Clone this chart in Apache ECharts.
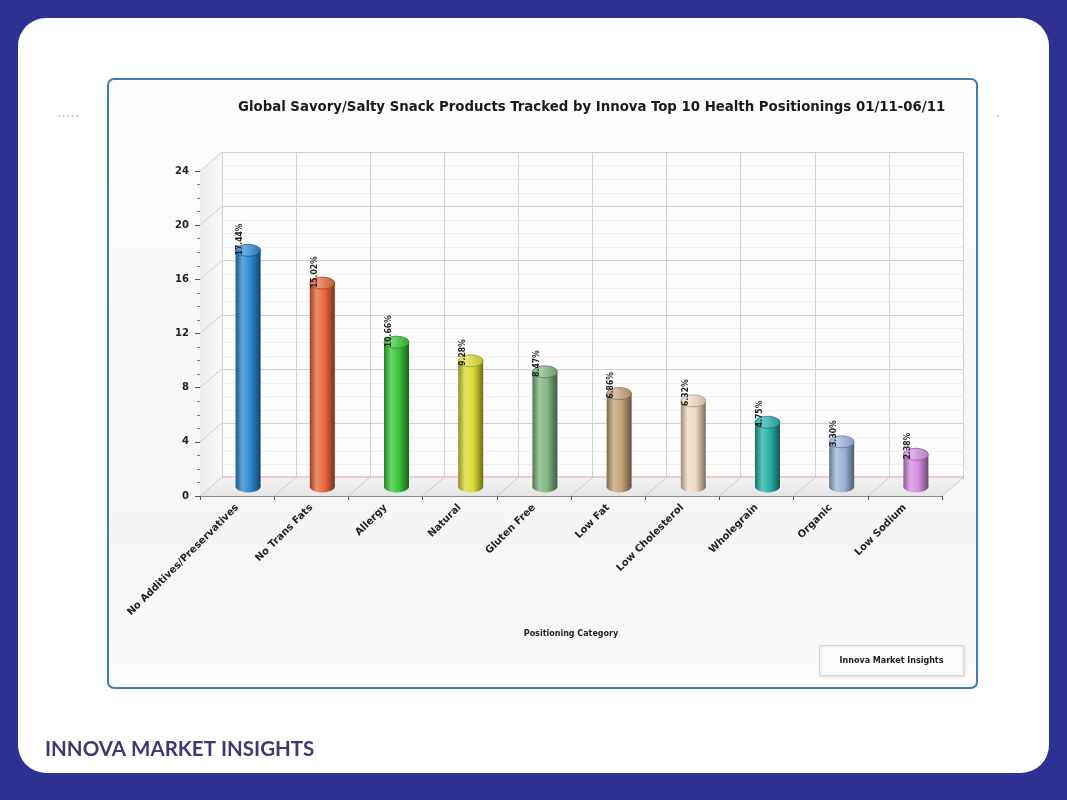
<!DOCTYPE html>
<html><head><meta charset="utf-8">
<script src="https://cdn.jsdelivr.net/npm/echarts@6/dist/echarts.min.js"></script>
<style>
html,body{margin:0;padding:0;background:#2e3192;overflow:hidden;}
#card{position:absolute;left:18px;top:18px;width:1031px;height:755px;background:#fff;border-radius:28px;}
#panel{position:absolute;left:107px;top:78px;width:867px;height:607px;border:2px solid #3f7cb9;border-radius:7px;background:linear-gradient(#fdfdfd,#f5f5f5 75%,#fbfbfb);}
#chart{position:absolute;left:0;top:0;width:1067px;height:800px;}
</style></head><body>
<div id="card"></div><div id="panel"></div><div id="chart"></div>
<script>
const titleText = 'Global Savory/Salty Snack Products Tracked by Innova Top 10 Health Positionings 01/11-06/11';
const categories = ['No Additives/Preservatives','No Trans Fats','Allergy','Natural','Gluten Free','Low Fat','Low Cholesterol','Wholegrain','Organic','Low Sodium'];
const values = [17.44, 15.02, 10.66, 9.28, 8.47, 6.86, 6.32, 4.75, 3.30, 2.38];
const valueLabels = ['17.44%','15.02%','10.66%','9.28%','8.47%','6.86%','6.32%','4.75%','3.30%','2.38%'];
const barColors = ['#2b88d2','#e9653b','#38c63a','#dcdc36','#82b482','#c4a479','#efd9c3','#27b1a6','#9bb5d8','#d68ee2'];
const yTicks = [0,4,8,12,16,20,24];
const xAxisName = 'Positioning Category';
const sourceText = 'Innova Market Insights';
const brandText = 'INNOVA MARKET INSIGHTS';

const DX = 22, DY = -19;
const Y_MAX = 24;

function shade(hex, amt){
  const n = parseInt(hex.slice(1),16);
  let r = n>>16, g = (n>>8)&255, b = n&255;
  const t = amt < 0 ? 0 : 255, p = Math.abs(amt);
  r = Math.round(r+(t-r)*p); g = Math.round(g+(t-g)*p); b = Math.round(b+(t-b)*p);
  return 'rgb('+r+','+g+','+b+')';
}

function renderFloor(params, api){
  const n = categories.length;
  const bw = api.size([1,0])[0];
  const p0 = api.coord([0,0]);
  const left = p0[0]-bw/2, baseY = p0[1];
  const right = api.coord([n-1,0])[0]+bw/2;
  const topY = api.coord([0,Y_MAX])[1];
  const ch = [];
  ch.push({type:'polygon', shape:{points:[[left,baseY],[right,baseY],[right+DX,baseY+DY],[left+DX,baseY+DY]]},
    style:{fill:new echarts.graphic.LinearGradient(0,0,0,1,[{offset:0,color:'#f3f3f3'},{offset:1,color:'#e5e5e5'}])}});
  for(let k=0;k<=n;k++){
    const x = left + k*bw;
    ch.push({type:'line', shape:{x1:x,y1:baseY,x2:x+DX,y2:baseY+DY}, style:{stroke:'#cacaca',lineWidth:1}});
  }
  ch.push({type:'line', shape:{x1:left+DX,y1:baseY+DY,x2:right+DX,y2:baseY+DY}, style:{stroke:'#dca4a4',lineWidth:1}});
  ch.push({type:'polygon', shape:{points:[[left,baseY],[left,topY],[left+DX,topY+DY],[left+DX,baseY+DY]]},
    style:{fill:new echarts.graphic.LinearGradient(0,0,1,0,[{offset:0,color:'#ececec'},{offset:1,color:'#f8f8f8'}])}});
  yTicks.forEach(t=>{
    const y = api.coord([0,t])[1];
    ch.push({type:'line', shape:{x1:left,y1:y,x2:left+DX,y2:y+DY}, style:{stroke:'#cfcfcf',lineWidth:1}});
  });
  return {type:'group', children:ch};
}

function renderBar(params, api){
  const i = api.value(0), v = api.value(1);
  const top = api.coord([i,v]), base = api.coord([i,0]);
  const cx = top[0]+DX/2, ty = top[1]+DY/2, by = base[1]+DY/2;
  const rx = 12.5, ry = 6;
  const c = barColors[params.dataIndex];
  const body = new echarts.graphic.LinearGradient(0,0,1,0,[
    {offset:0,color:shade(c,-0.35)},{offset:0.28,color:shade(c,0.25)},
    {offset:0.6,color:c},{offset:1,color:shade(c,-0.5)}]);
  const cap = new echarts.graphic.LinearGradient(0,0,1,0,[
    {offset:0,color:shade(c,0.0)},{offset:0.35,color:shade(c,0.3)},{offset:1,color:shade(c,-0.15)}]);
  return {type:'group', children:[
    {type:'circle', x:cx, y:by, scaleY:ry/rx, shape:{cx:0,cy:0,r:rx}, style:{fill:body}},
    {type:'rect', shape:{x:cx-rx,y:ty,width:rx*2,height:by-ty}, style:{fill:body}},
    {type:'circle', x:cx, y:ty, scaleY:ry/rx, shape:{cx:0,cy:0,r:rx}, style:{fill:cap, stroke:shade(c,-0.35), lineWidth:1, strokeNoScale:true}},
    {type:'text', x:cx-8, y:ty+5, rotation:Math.PI/2, style:{text:valueLabels[params.dataIndex], fill:'#222',
      font:'bold 8.5px "DejaVu Sans Condensed", "DejaVu Sans"', textAlign:'left', verticalAlign:'middle'}}
  ]};
}

const chart = echarts.init(document.getElementById('chart'), null, {renderer:'canvas'});
chart.setOption({
  animation:false,
  title:{text:titleText, left:233, top:95, textStyle:{fontFamily:'DejaVu Sans Condensed', fontWeight:'bold', fontSize:14.8, color:'#1a1a1a'}},
  grid:[
    {left:222, right:104, top:152, bottom:322, show:true, backgroundColor:'#fdfdfd', borderWidth:0, outerBoundsMode:'none'},
    {left:200, right:125, top:171, bottom:304, outerBoundsMode:'none'}
  ],
  xAxis:[
    {gridIndex:0, type:'category', data:categories, axisLine:{show:true, lineStyle:{color:'#dca4a4'}}, axisTick:{show:false, interval:0}, axisLabel:{show:false, interval:0},
      splitLine:{show:true, interval:0, lineStyle:{color:'#d2d2d2'}}},
    {gridIndex:1, type:'category', data:categories, name:xAxisName, nameLocation:'middle', nameGap:134,
      nameTextStyle:{fontFamily:'DejaVu Sans', fontWeight:'bold', fontSize:8, color:'#222'},
      axisLine:{show:true, lineStyle:{color:'#8a8a8a'}}, axisTick:{show:true, interval:0, length:4, lineStyle:{color:'#555'}},
      axisLabel:{rotate:45, margin:10, fontFamily:'DejaVu Sans', fontWeight:'bold', fontSize:10, color:'#222', interval:0},
      splitLine:{show:false}}
  ],
  yAxis:[
    {gridIndex:0, type:'value', min:0, max:Y_MAX, interval:4, axisLine:{show:true, lineStyle:{color:'#cfcfcf'}}, axisTick:{show:false}, axisLabel:{show:false},
      splitLine:{show:true, lineStyle:{color:'#d2d2d2'}}, minorTick:{show:false, splitNumber:4}, minorSplitLine:{show:true, lineStyle:{color:'#efefef'}}},
    {gridIndex:1, type:'value', min:0, max:Y_MAX, interval:4, axisLine:{show:true, lineStyle:{color:'#555'}},
      axisTick:{show:true, length:5, lineStyle:{color:'#555'}}, minorTick:{show:true, splitNumber:4, length:3, lineStyle:{color:'#777'}},
      axisLabel:{margin:11, fontFamily:'DejaVu Sans', fontWeight:'bold', fontSize:10, color:'#222'},
      splitLine:{show:false}}
  ],
  series:[
    {type:'custom', name:'floor', xAxisIndex:1, yAxisIndex:1, data:[[0,0]], renderItem:renderFloor, z:1, silent:true},
    {type:'custom', name:'share', xAxisIndex:1, yAxisIndex:1, data:values.map((v,i)=>[i,v]), encode:{x:0,y:1}, renderItem:renderBar, z:3}
  ],
  graphic:[
    {type:'text', left:57, top:106, style:{text:'.....', fill:'#b9b9c8', font:'14px "DejaVu Sans"'}},
    {type:'text', left:996, top:106, style:{text:'.', fill:'#b9b9c8', font:'14px "DejaVu Sans"'}},
    {type:'group', left:819, top:645, children:[
      {type:'rect', shape:{x:0,y:0,width:144,height:30}, style:{fill:'#fbfbfb', stroke:'#d6d6d6', lineWidth:1, shadowBlur:3, shadowColor:'rgba(0,0,0,0.12)', shadowOffsetX:1, shadowOffsetY:1}},
      {type:'text', x:72, y:15, style:{text:sourceText, fill:'#222', font:'bold 8px "DejaVu Sans"', textAlign:'center', verticalAlign:'middle'}}
    ]},
    {type:'text', left:45, top:739, style:{text:brandText, fill:'#3d3a70', font:'bold 20.5px Lato'}}
  ]
});
</script>
</body></html>
